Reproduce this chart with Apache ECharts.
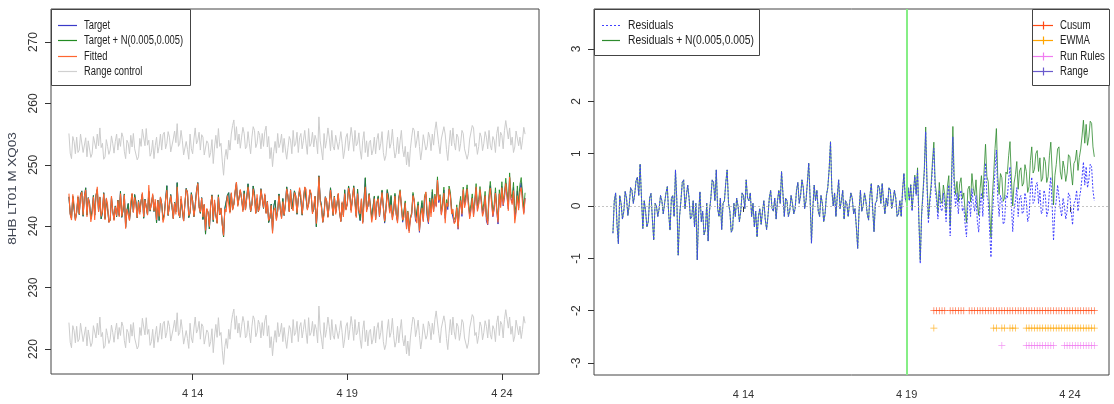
<!DOCTYPE html>
<html>
<head>
<meta charset="utf-8">
<script src="https://cdn.jsdelivr.net/npm/echarts@6/dist/echarts.min.js"></script>
<style>
  html, body { margin: 0; padding: 0; background: #fff; }
  #chart { width: 1114px; height: 404px; }
</style>
</head>
<body>
<div id="chart"></div>
<script>
// Hourly samples starting on 10 April (x axis is the day of month)
const startDay = 10;
const stepDay = 1 / 24;

// Day from which the simulated shift N(0.005,0.005) is added
const changeDay = 19;

// Fitted level of 8HB LT01 M XQ03 (hourly)
const fitted = [
  245.3, 241.9, 241.0, 245.2, 243.5, 240.9, 242.2, 245.0, 242.0, 244.9, 245.6, 241.8, 244.8, 245.9, 241.5, 244.6, 243.5, 240.7, 242.0, 244.8,
  241.0, 244.9, 246.4, 242.3, 244.8, 241.6, 242.5, 245.3, 241.0, 244.6, 243.5, 240.6, 241.0, 244.9, 242.5, 240.9, 243.2, 241.7, 244.2, 241.5,
  245.3, 241.6, 243.0, 245.1, 239.6, 242.8, 243.0, 240.9, 244.0, 245.4, 242.2, 244.7, 243.5, 241.4, 244.0, 241.9, 244.0, 245.5, 241.5, 244.3,
  244.5, 241.8, 246.7, 242.6, 243.5, 245.3, 242.5, 244.4, 241.0, 244.2, 241.6, 244.8, 243.5, 240.6, 241.5, 244.3, 245.9, 241.8, 242.0, 245.0,
  243.5, 241.2, 243.8, 241.9, 246.4, 242.2, 241.5, 244.9, 243.0, 240.8, 243.8, 246.0, 245.5, 241.7, 242.3, 245.2, 244.0, 241.6, 243.0, 245.6,
  247.0, 243.0, 242.3, 244.6, 241.5, 243.6, 239.3, 242.9, 242.3, 239.9, 243.5, 245.0, 241.0, 244.3, 242.0, 240.4, 244.8, 241.9, 243.0, 240.2,
  238.5, 242.8, 242.3, 245.0, 244.8, 242.1, 245.5, 242.6, 243.5, 245.8, 247.2, 243.2, 243.5, 246.0, 244.5, 242.3, 245.3, 242.6, 244.5, 246.4,
  246.3, 242.4, 243.5, 246.1, 244.5, 242.0, 245.2, 242.4, 243.0, 246.0, 245.9, 243.0, 245.3, 242.0, 244.0, 240.9, 241.5, 243.4, 238.8, 242.6,
  243.0, 240.9, 242.5, 245.0, 243.0, 241.2, 244.0, 241.8, 243.5, 246.1, 245.0, 242.3, 245.9, 243.0, 242.5, 245.5, 244.8, 242.1, 244.5, 246.3,
  245.0, 241.9, 244.0, 246.4, 246.0, 242.6, 243.5, 246.0, 245.3, 242.0, 242.3, 244.9, 240.4, 243.3, 248.1, 244.0, 243.0, 240.6, 241.8, 244.7,
  244.2, 241.4, 243.5, 245.9, 243.7, 241.8, 244.8, 241.9, 243.5, 245.4, 242.5, 240.7, 244.0, 241.5, 245.3, 242.6, 243.6, 246.2, 245.0, 242.2,
  244.5, 246.3, 243.5, 241.4, 245.3, 242.6, 242.0, 244.5, 240.4, 243.6, 246.4, 242.3, 243.5, 245.2, 242.8, 240.6, 242.0, 244.5, 241.0, 243.9,
  244.5, 241.6, 243.7, 245.5, 243.0, 240.8, 242.5, 245.4, 245.3, 242.1, 243.5, 241.0, 242.5, 244.9, 242.0, 240.5, 244.2, 245.8, 243.2, 241.0,
  241.5, 243.8, 239.5, 242.4, 238.9, 241.2, 242.0, 245.0, 244.2, 241.3, 240.5, 243.4, 239.2, 241.8, 243.0, 240.7, 244.5, 245.6, 242.5, 240.6,
  244.0, 241.5, 244.5, 242.3, 245.0, 243.1, 247.5, 244.2, 245.0, 241.8, 243.2, 245.4, 240.5, 243.8, 243.2, 246.1, 245.0, 242.0, 242.8, 240.4,
  240.8, 243.1, 239.6, 242.6, 244.2, 241.9, 246.0, 243.0, 244.0, 246.1, 243.5, 241.2, 242.5, 244.6, 241.5, 243.9, 246.4, 242.4, 243.5, 246.0,
  244.0, 241.6, 242.5, 245.0, 241.5, 240.3, 244.5, 246.2, 243.8, 241.6, 243.0, 245.4, 242.5, 240.6, 245.3, 243.0, 246.3, 243.4, 245.0, 247.0,
  244.8, 242.5, 248.0, 244.4, 243.5, 245.8, 240.5, 242.2, 245.0, 242.6, 245.5, 246.3, 243.8, 241.9, 244.5
];

// Residuals: target minus fitted (hourly)
const residuals = [
  -0.52, 0.10, 0.25, -0.35, -0.72, 0.20, 0.05, -0.25, -0.10, 0.28, 0.15, -0.18, 0.02, 0.35, 0.30, 0.05, 0.22, 0.48, 0.55, 0.20,
  0.80, 0.15, -0.43, 0.10, -0.10, -0.40, -0.30, 0.15, 0.24, -0.25, -0.65, 0.05, 0.00, -0.20, -0.05, 0.20, 0.10, -0.15, 0.05, 0.25,
  0.37, -0.15, -0.46, 0.15, 0.20, -0.20, 0.69, 0.10, -0.94, -0.20, 0.10, 0.45, 0.50, -0.05, 0.20, 0.40, 0.15, -0.25, -0.20, 0.10,
  -0.40, 0.05, -1.03, -0.15, 0.27, -0.30, -0.10, -0.55, -0.45, 0.05, -0.67, -0.10, 0.15, 0.50, 0.45, 0.10, 0.69, -0.05, -0.20, 0.15,
  -0.45, 0.05, 0.10, 0.45, 0.69, 0.05, -0.10, -0.50, -0.45, 0.05, -0.20, 0.15, 0.00, -0.30, -0.10, 0.25, 0.20, -0.05, 0.50, 0.15,
  0.10, 0.25, -0.20, 0.05, -0.40, -0.10, -0.59, -0.20, -0.05, -0.35, -0.10, 0.10, -0.25, -0.45, -0.20, 0.15, 0.30, -0.05, -0.10, 0.15,
  -0.25, 0.10, 0.30, 0.05, 0.66, 0.25, -0.20, 0.15, 0.10, -0.20, -0.10, 0.20, 0.05, -0.15, -0.05, 0.30, 0.45, 0.05, 0.20, 0.50,
  0.35, -0.05, 0.10, 0.45, 0.82, 0.15, -0.71, -0.05, 0.40, 0.10, 0.30, -0.10, -0.20, 0.20, 0.05, -0.30, -0.15, 0.20, 0.35, 0.70,
  1.23, 0.30, 0.00, 0.25, -0.20, 0.20, 0.50, -0.05, 0.10, 0.30, -0.25, 0.10, 0.05, -0.20, 0.05, 0.25, 0.15, -0.15, -0.05, -0.40,
  -0.81, -0.10, 0.30, -0.10, 0.00, 0.25, 0.10, -0.15, -0.27, 0.20, 0.43, -0.05, -0.49, 0.05, 0.10, 0.40, 0.35, 0.05, 0.43, 0.10,
  -0.15, 0.15, 0.00, 0.35, 0.30, -0.05, 0.10, 0.30, 0.15, -0.20, -0.15, 0.10, -0.20, 0.30, 0.62, 0.15, 0.05, 0.35, 0.10, 0.40,
  -0.10, 0.25, 0.56, 0.20, 0.68, -0.30, -1.10, -0.20, 0.20, 0.65, 1.42, 0.35, -0.33, 0.05, 0.30, 0.75, 1.10, 0.30, 0.10, -0.25,
  0.30, -0.05, -0.10, 0.25, 0.05, -0.30, 0.20, 0.40, -0.57, 0.35, 1.32, 0.30, 0.00, 0.25, -0.15, 0.20, 0.30, -0.10, 0.00, -0.35,
  -0.59, 0.05, 0.10, -0.20, 0.33, 0.05, -0.10, 0.20, -0.30, -0.50, 0.00, 0.25, -0.20, 0.35, 0.82, 0.20, 0.10, -0.45, -0.98, -0.20,
  0.20, 0.70, 1.07, 0.15, -0.20, 0.20, 0.10, -0.35, -0.30, 0.20, 0.15, 0.50, 0.75, 0.05, -0.49, -0.05, 0.10, 0.35, -0.20, 0.15,
  0.20, -0.15, -0.10, 0.25, 0.10, -0.30, -0.20, 0.30, 0.55, 0.05, 0.10, 0.40, 0.45, 0.05, 0.30, -0.15, -0.10, 0.30, 0.20, -0.20,
  -0.10, 0.30, 0.55, 0.00, -0.66, -0.10, 0.10, 0.40, 0.43, -0.05, -0.20, 0.15, 0.00, -0.25, -0.10, 0.25, 0.19, -0.10, -0.36, 0.05,
  0.10, 0.30, -0.10, 0.15, 0.30, 0.55, 0.84, 0.40, 0.75, 0.35, 0.50, 0.80, 0.75, 0.30, 0.10
];

// Accumulated N(0.005,0.005) shift from the change day on, one value per 2 hours
const shiftAfterChange = [
  0.00, 0.01, 0.03, 0.03, 0.05, 0.06, 0.07, 0.09, 0.09, 0.11,
  0.12, 0.13, 0.15, 0.15, 0.17, 0.18, 0.19, 0.20, 0.22, 0.23,
  0.24, 0.25, 0.27, 0.28, 0.29, 0.30, 0.32, 0.33, 0.34, 0.36,
  0.37, 0.38, 0.40, 0.41, 0.42, 0.44, 0.45, 0.46, 0.48, 0.49,
  0.50, 0.52, 0.53, 0.54, 0.56, 0.57, 0.58, 0.60, 0.61, 0.62,
  0.63, 0.65, 0.66, 0.67, 0.68, 0.69, 0.70, 0.71, 0.72, 0.73,
  0.75, 0.76, 0.77, 0.78, 0.79, 0.80, 0.81, 0.82, 0.83, 0.84
];
const shiftStepHours = 2;

// Upper range-control limit (hourly); the lower limit lies one band width below
const rangeUpper = [
  255.1, 251.9, 251.0, 254.6, 253.8, 251.8, 254.5, 252.0, 252.4, 255.0, 255.1, 252.0, 252.0, 254.4, 251.3, 253.9, 254.0, 251.2, 251.8, 254.6,
  254.3, 252.6, 255.0, 253.1, 256.0, 252.8, 253.5, 250.9, 251.3, 254.1, 253.0, 251.7, 252.4, 254.7, 253.5, 251.9, 253.8, 255.0, 252.4, 254.3,
  253.0, 255.2, 254.5, 252.2, 251.0, 254.0, 253.5, 251.8, 254.8, 252.9, 255.1, 252.6, 252.9, 250.8, 251.3, 254.3, 253.0, 255.8, 255.6, 253.1,
  255.9, 253.2, 254.0, 251.4, 252.0, 254.0, 251.0, 253.1, 254.5, 251.9, 253.0, 255.0, 252.4, 254.9, 255.3, 252.6, 253.5, 255.4, 254.5, 252.1,
  252.0, 254.2, 255.5, 253.6, 256.7, 253.0, 253.5, 255.6, 254.0, 251.6, 251.3, 253.8, 252.5, 250.9, 255.0, 252.6, 251.8, 254.2, 256.0, 253.4,
  254.0, 255.3, 252.4, 254.9, 254.5, 251.6, 251.3, 253.9, 253.5, 251.2, 252.0, 254.1, 250.2, 252.9, 254.8, 252.7, 255.9, 253.0, 253.5, 250.6,
  248.3, 251.2, 252.5, 250.9, 254.0, 252.4, 255.0, 256.4, 257.3, 254.0, 256.2, 253.4, 255.0, 252.7, 254.5, 256.1, 255.1, 252.6, 253.0, 255.4,
  253.5, 251.8, 254.5, 256.2, 255.6, 252.8, 253.5, 255.5, 254.8, 252.6, 255.1, 253.0, 255.4, 256.3, 252.9, 254.6, 251.0, 252.8, 249.7, 252.2,
  253.8, 251.9, 255.1, 252.8, 253.5, 255.0, 252.0, 254.3, 252.4, 250.9, 252.8, 254.6, 254.0, 251.8, 255.6, 253.0, 253.5, 255.3, 252.0, 254.4,
  255.1, 252.6, 254.0, 255.6, 253.5, 251.7, 255.9, 253.0, 253.5, 255.3, 252.9, 254.8, 254.0, 251.8, 257.8, 253.9, 252.4, 250.8, 255.1, 252.7,
  254.0, 256.0, 254.5, 252.3, 255.6, 253.0, 252.4, 254.8, 255.0, 252.5, 253.8, 255.4, 253.5, 251.0, 252.4, 254.5, 255.1, 252.3, 254.0, 256.1,
  254.5, 252.2, 255.6, 253.1, 253.5, 255.2, 252.4, 250.9, 254.0, 255.4, 252.0, 253.9, 251.3, 253.6, 254.0, 251.6, 252.4, 254.5, 251.8, 254.1,
  255.1, 252.4, 253.5, 255.4, 252.0, 250.7, 251.5, 253.9, 255.6, 252.7, 253.5, 255.8, 253.0, 251.1, 252.0, 254.5, 251.8, 253.9, 255.6, 252.5,
  251.3, 253.0, 250.0, 252.1, 249.7, 252.6, 254.5, 256.0, 255.6, 252.8, 254.0, 255.5, 253.0, 250.8, 252.4, 254.9, 255.1, 252.4, 253.0, 255.3,
  254.5, 252.3, 255.0, 253.2, 255.6, 257.0, 256.7, 253.3, 251.8, 254.2, 254.5, 256.2, 255.0, 252.5, 250.7, 253.3, 255.6, 253.1, 256.0, 253.6,
  252.4, 255.0, 254.5, 252.2, 253.5, 255.6, 255.1, 252.6, 252.5, 250.9, 251.8, 254.2, 254.0, 256.4, 256.0, 253.0, 253.5, 251.7, 253.0, 255.2,
  254.5, 252.3, 253.5, 255.4, 254.5, 252.6, 255.6, 253.2, 252.4, 254.6, 254.0, 252.0, 255.1, 256.2, 253.0, 255.3, 254.8, 252.6, 255.6, 257.2,
  257.0, 254.2, 256.0, 253.2, 254.5, 252.0, 252.9, 255.5, 255.6, 253.1, 254.5, 252.5, 254.0, 256.1, 255.0
];
const rangeBandWidth = 30.8;

// Alarms raised by each control scheme, as 2-hour check numbers since the start
const alarmStepHours = 2;
const cusumAlarms = [118, 119, 120, 121, 122, 124, 125, 126, 127, 128, 129,
  131, 132, 133, 134, 135, 136, 137, 138, 139, 140, 141, 142, 143, 144, 145,
  146, 147, 148, 149, 150, 151, 152, 153, 154, 155, 156, 157, 158, 159, 160,
  161, 162, 163, 164, 165, 166, 167, 168, 169, 170, 171, 172, 173, 174, 175,
  176, 177];
const ewmaAlarms = [118, 140, 141, 143, 144, 146, 147, 148, 152, 153, 154,
  155, 156, 157, 158, 159, 160, 161, 162, 163, 164, 165, 166, 167, 168, 169,
  170, 171, 172, 173, 174, 175, 176, 177];
const runRulesAlarms = [143, 152, 153, 154, 155, 156, 157, 158, 159, 160,
  161, 162, 166, 167, 168, 169, 170, 171, 172, 173, 174, 175, 176, 177];
const rangeAlarms = [];
// Residual-axis level at which each scheme's alarms are marked
const alarmLevels = { Cusum: -2, EWMA: -2.333, 'Run Rules': -2.667, Range: -3 };

// Axis ticks
const xTickDays = [14, 19, 24];
const xTickLabels = ['4 14', '4 19', '4 24'];
const yTicksLevel = [220, 230, 240, 250, 260, 270];
const yTicksResid = [-3, -2, -1, 0, 1, 2, 3];
const yTitle = '8HB LT01 M XQ03';

// ---- derived series ----
const dayOf = i => startDay + i * stepDay;
const changeIndex = Math.round((changeDay - startDay) / stepDay);
const shift = residuals.map((_, i) => i < changeIndex ? 0
  : shiftAfterChange[Math.floor((i - changeIndex) / shiftStepHours)]);
const target = fitted.map((f, i) => f + residuals[i]);
const pairs = arr => arr.map((v, i) => [dayOf(i), v]);
const alarmPoints = (checks, level) => checks.map(k => [startDay + k * alarmStepHours / 24, level]);

const FONT = "'Liberation Sans', Arial, sans-serif";
const INK = '#333';
const plusPath = 'path://M4.5,0h1v4.5h4.5v1h-4.5v4.5h-1v-4.5h-4.5v-1h4.5z';

const C = {
  target: '#3a3ac8', targetN: '#228b22', fitted: '#ff6530', range: '#cccccc',
  resid: '#4040ff', residN: '#2e8b2e',
  cusum: '#ff4a14', ewma: '#ffa500', runRules: '#f07cf0', rangeAlarm: '#6a5acd'
};

function xAxisFor(gridIndex) {
  return {
    type: 'value', gridIndex, min: 9.42, max: 25.2,
    axisLine: { show: false },
    splitLine: { show: false },
    axisTick: { show: true, inside: false, length: 6, customValues: xTickDays,
      lineStyle: { color: INK } },
    axisLabel: { customValues: xTickDays, margin: 14, color: INK,
      fontFamily: FONT, fontSize: 11,
      formatter: v => xTickLabels[xTickDays.indexOf(Math.round(v))] || '' }
  };
}
function yAxisFor(gridIndex, min, max, ticks) {
  return {
    type: 'value', gridIndex, min, max,
    axisLine: { show: false },
    splitLine: { show: false },
    axisTick: { show: true, inside: false, length: 6, customValues: ticks,
      lineStyle: { color: INK } },
    axisLabel: { customValues: ticks, rotate: 90, margin: 11, color: INK,
      fontFamily: FONT, fontSize: 12, align: 'center', verticalAlign: 'bottom' }
  };
}
function lineSeries(name, data, color, xi, extra) {
  return Object.assign({
    type: 'line', name, data, xAxisIndex: xi, yAxisIndex: xi,
    symbol: 'none', silent: true, animation: false,
    lineStyle: { color, width: 1 }, itemStyle: { color }
  }, extra || {});
}
function alarmSeries(name, checks, color) {
  return {
    type: 'scatter', name, xAxisIndex: 1, yAxisIndex: 1,
    data: alarmPoints(checks, alarmLevels[name]),
    symbol: plusPath, symbolSize: 7, silent: true, animation: false,
    itemStyle: { color }
  };
}

// Boxed legend drawn as graphic elements: rows of {label, color, kind}
function legendBox(box, rows, opt) {
  const children = [{
    type: 'rect', silent: true,
    shape: { x: box.x + 0.5, y: box.y + 0.5, width: box.w, height: box.h },
    style: { fill: '#fff', stroke: '#444', lineWidth: 1 }
  }];
  rows.forEach((r, k) => {
    const y = Math.round(box.y + opt.firstRow + k * opt.rowGap) + 0.5;
    const x1 = box.x + opt.lineStart, x2 = x1 + opt.lineLen;
    children.push({
      type: 'line', silent: true,
      shape: { x1, y1: y, x2, y2: y },
      style: { stroke: r.color, lineWidth: 1.2, lineDash: r.kind === 'dotted' ? [2, 2] : null }
    });
    if (r.kind === 'cross') {
      const xm = Math.round((x1 + x2) / 2) + 0.5;
      children.push({
        type: 'line', silent: true,
        shape: { x1: xm, y1: y - 4, x2: xm, y2: y + 4 },
        style: { stroke: r.color, lineWidth: 1.2 }
      });
    }
    children.push({
      type: 'text', silent: true, x: box.x + opt.textStart, y: y, scaleX: opt.scaleX,
      style: { text: r.label, fontFamily: FONT, fontSize: 12, fill: '#222',
        align: 'left', verticalAlign: 'middle', textAlign: 'left', textVerticalAlign: 'middle' }
    });
  });
  return { type: 'group', children };
}

const chart = echarts.init(document.getElementById('chart'), null, { renderer: 'canvas' });
chart.setOption({
  animation: false,
  backgroundColor: '#fff',
  grid: [
    { left: 51, top: 9, width: 488, height: 365, show: true, borderColor: '#444', borderWidth: 1 },
    { left: 594, top: 9, width: 515, height: 366, show: true, borderColor: '#444', borderWidth: 1 }
  ],
  xAxis: [xAxisFor(0), xAxisFor(1)],
  yAxis: [
    yAxisFor(0, 215.93, 275.37, yTicksLevel),
    yAxisFor(1, -3.23, 3.765, yTicksResid)
  ],
  series: [
    // left panel: process level
    lineSeries('Target', pairs(target), C.target, 0),
    lineSeries('Target + N(0.005,0.005)', pairs(target.map((t, i) => t + shift[i])), C.targetN, 0, {
      lineStyle: { color: C.targetN, width: 1, opacity: 0.85 }
    }),
    lineSeries('Fitted', pairs(fitted), C.fitted, 0, {
      lineStyle: { color: C.fitted, width: 1.1 }
    }),
    lineSeries('Range control', pairs(rangeUpper), C.range, 0),
    lineSeries('Range control', pairs(rangeUpper.map(v => v - rangeBandWidth)), C.range, 0),
    // right panel: residuals
    lineSeries('Residuals + N(0.005,0.005)', pairs(residuals.map((r, i) => r + shift[i])), C.residN, 1, {
      lineStyle: { color: C.residN, width: 1, opacity: 0.8 },
      markLine: {
        silent: true, symbol: 'none', animation: false,
        label: { show: false },
        data: [
          { xAxis: changeDay, lineStyle: { color: '#86ee86', width: 2, type: 'solid' } },
          { yAxis: 0, lineStyle: { color: '#c4c4c4', width: 1, type: [2, 2] } }
        ]
      }
    }),
    lineSeries('Residuals', pairs(residuals), C.resid, 1, {
      lineStyle: { color: C.resid, width: 1, type: [2, 1.5] }
    }),
    alarmSeries('Cusum', cusumAlarms, C.cusum),
    alarmSeries('EWMA', ewmaAlarms, C.ewma),
    alarmSeries('Run Rules', runRulesAlarms, C.runRules),
    alarmSeries('Range', rangeAlarms, C.rangeAlarm)
  ],
  graphic: [
    {
      type: 'text', silent: true, x: 12.5, y: 188.5, rotation: Math.PI / 2, scaleX: 1.22,
      style: { text: yTitle, fontFamily: FONT, fontSize: 11, fill: '#3c4250',
        align: 'center', verticalAlign: 'middle', textAlign: 'center', textVerticalAlign: 'middle' }
    },
    legendBox({ x: 51, y: 9, w: 139, h: 76 }, [
      { label: 'Target', color: C.target, kind: 'solid' },
      { label: 'Target + N(0.005,0.005)', color: C.targetN, kind: 'solid' },
      { label: 'Fitted', color: C.fitted, kind: 'solid' },
      { label: 'Range control', color: '#d0d0d0', kind: 'solid' }
    ], { firstRow: 16, rowGap: 15.3, lineStart: 7, lineLen: 19, textStart: 33, scaleX: 0.78 }),
    legendBox({ x: 594, y: 9, w: 165, h: 46 }, [
      { label: 'Residuals', color: C.resid, kind: 'dotted' },
      { label: 'Residuals + N(0.005,0.005)', color: C.residN, kind: 'solid' }
    ], { firstRow: 16, rowGap: 15.3, lineStart: 8, lineLen: 18, textStart: 34, scaleX: 0.86 }),
    legendBox({ x: 1032, y: 9, w: 77, h: 76 }, [
      { label: 'Cusum', color: C.cusum, kind: 'cross' },
      { label: 'EWMA', color: C.ewma, kind: 'cross' },
      { label: 'Run Rules', color: C.runRules, kind: 'cross' },
      { label: 'Range', color: C.rangeAlarm, kind: 'cross' }
    ], { firstRow: 16, rowGap: 15.3, lineStart: 1, lineLen: 20, textStart: 28, scaleX: 0.8 })
  ]
});
</script>
</body>
</html>
